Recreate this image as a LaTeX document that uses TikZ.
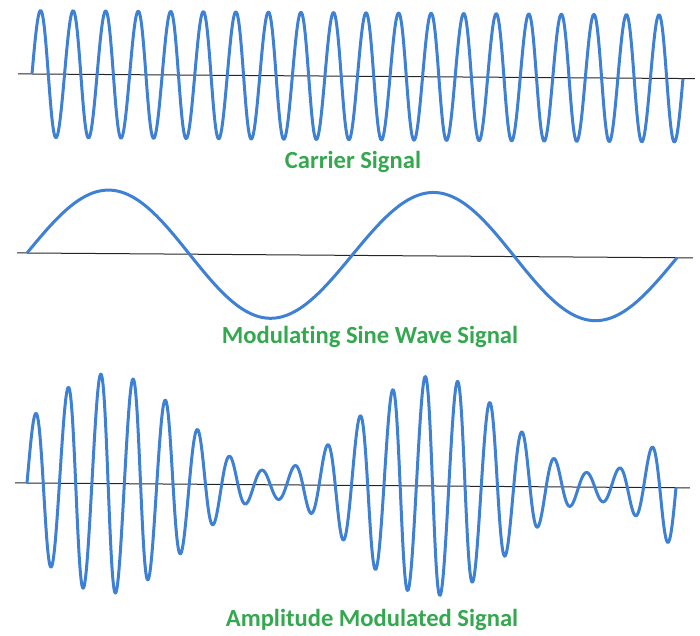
\documentclass[tikz,border=0pt]{standalone}
\usepackage{fontspec}
\setmainfont{Carlito}[Ligatures=NoCommon]
\definecolor{waveblue}{RGB}{62,128,212}
\definecolor{labelgreen}{RGB}{52,168,78}
\begin{document}
\begin{tikzpicture}[x=1pt, y=1pt,
    wave/.style={waveblue, line width=3pt, line join=round},
    axisline/.style={black!85, line width=1pt},
    caption/.style={labelgreen, font=\fontsize{24.6}{29}\selectfont\bfseries, anchor=base}]
    \useasboundingbox (0, 0) rectangle (700, 635);
    \begin{scope}[rotate around={-0.4:(32, 561)}]
      \draw[axisline] (18, 561) -- (695, 561);
      \draw[wave] plot[domain=32:683, samples=1200] (\x, {561 + 63.5*sin(11.0599*(\x-32))});
    \end{scope}
    \node[caption] (carrier) at (353, 466) {Carrier Signal};
    \begin{scope}[rotate around={-0.42:(27, 382)}]
      \draw[axisline] (17, 382) -- (693, 382);
      \draw[wave] plot[domain=27:677, samples=400] (\x, {382 + 63.5*sin(1.10769*(\x-27))});
    \end{scope}
    \node[caption] (modulating) at (370, 292) {Modulating Sine Wave Signal};
    \begin{scope}[rotate around={-0.42:(27, 152)}]
      \draw[axisline] (15, 152) -- (690, 152);
      \draw[wave] plot[domain=27:676, samples=1200]
        (\x, {152 + (62 + 48*sin(1.1094*(\x-27)))*sin(11.094*(\x-27))});
    \end{scope}
    \node[caption] (modulated) at (372, 9) {Amplitude Modulated Signal};
  \end{tikzpicture}
\end{document}
